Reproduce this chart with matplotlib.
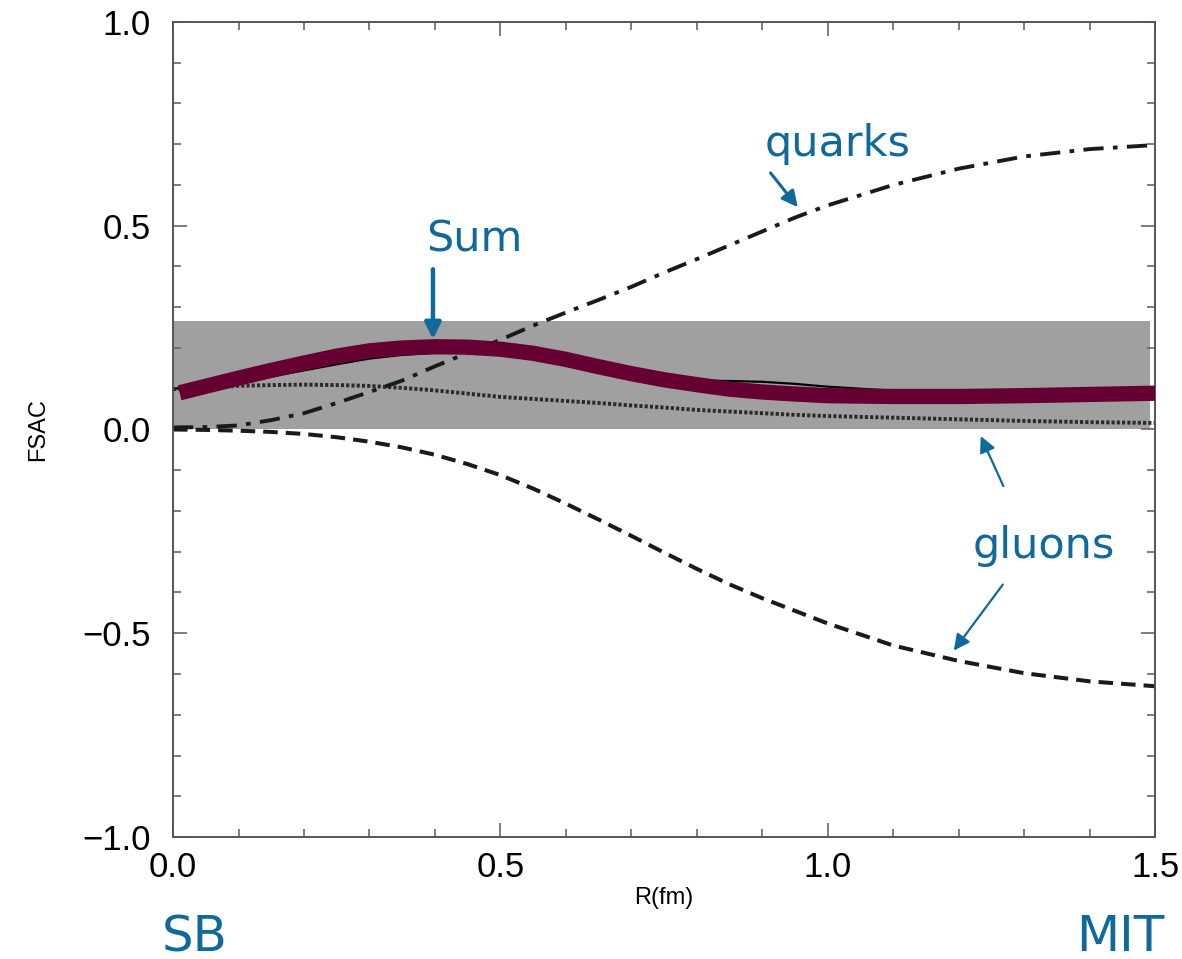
import matplotlib
matplotlib.use("Agg")
import matplotlib.pyplot as plt
from matplotlib.ticker import MultipleLocator

# === DATA ===
R = [0.0, 0.05, 0.1, 0.15, 0.2, 0.25, 0.3, 0.35, 0.4, 0.45, 0.5, 0.55, 0.6,
     0.65, 0.7, 0.75, 0.8, 0.85, 0.9, 0.95, 1.0, 1.1, 1.2, 1.3, 1.4, 1.5]
quarks = [0.005, 0.006, 0.01, 0.023, 0.04, 0.065, 0.092, 0.12, 0.155, 0.188, 0.22, 0.255, 0.287,
          0.318, 0.35, 0.385, 0.418, 0.452, 0.486, 0.52, 0.55, 0.6, 0.64, 0.67, 0.688, 0.698]
gluons_dash = [0.0, -0.001, -0.003, -0.006, -0.011, -0.019, -0.03, -0.044, -0.062, -0.085, -0.112, -0.145, -0.182,
               -0.221, -0.261, -0.302, -0.342, -0.38, -0.414, -0.445, -0.476, -0.53, -0.568, -0.598, -0.618, -0.63]
gluons_dot = [0.099, 0.103, 0.107, 0.109, 0.11, 0.109, 0.107, 0.102, 0.096, 0.088, 0.08, 0.075, 0.07,
              0.065, 0.059, 0.054, 0.048, 0.044, 0.04, 0.036, 0.033, 0.029, 0.025, 0.021, 0.018, 0.016]
sum_thin = [0.10, 0.108, 0.118, 0.13, 0.145, 0.16, 0.174, 0.183, 0.188, 0.19, 0.185, 0.175, 0.162,
            0.148, 0.135, 0.125, 0.12, 0.119, 0.117, 0.112, 0.105, 0.095, 0.09, 0.087, 0.087, 0.088]

R_sum = [0.01, 0.05, 0.1, 0.15, 0.2, 0.25, 0.3, 0.35, 0.4, 0.45, 0.5, 0.55, 0.6,
         0.65, 0.7, 0.75, 0.8, 0.85, 0.9, 0.95, 1.0, 1.1, 1.2, 1.3, 1.4, 1.5]
sum_thick = [0.09, 0.106, 0.126, 0.145, 0.163, 0.18, 0.193, 0.2, 0.203, 0.202, 0.197, 0.187, 0.172,
             0.154, 0.137, 0.122, 0.11, 0.099, 0.092, 0.087, 0.083, 0.081, 0.081, 0.083, 0.086, 0.089]

band_x = [0.0, 1.492]
band_lo = 0.0
band_hi = 0.265

BLUE = "#10699b"
MAROON = "#660033"

plt.rcParams['font.family'] = ['Liberation Sans', 'DejaVu Sans']

fig = plt.figure(figsize=(11.82, 9.59), dpi=100)
ax = fig.add_axes([0.1464, 0.1272, 0.8308, 0.8499])

ax.fill_between(band_x, band_lo, band_hi, color="#a0a0a0", lw=0, zorder=1)

ax.plot(R, sum_thin, color="black", lw=1.6, zorder=2)
ax.plot(R, gluons_dot, color="#2a2a2a", lw=2.8, linestyle=(0, (0.8, 0.55)), zorder=2)
ax.plot(R, quarks, color="#1a1a1a", lw=2.8, dashes=(5.2, 2.4, 1.2, 2.4), zorder=2)
ax.plot(R, gluons_dash, color="#1a1a1a", lw=2.9, dashes=(3.6, 2.0), zorder=2)
ax.plot(R_sum, sum_thick, color=MAROON, lw=11, solid_capstyle="butt", zorder=3)

# axes styling
ax.set_xlim(0, 1.5)
ax.set_ylim(-1.0, 1.0)
ax.xaxis.set_major_locator(MultipleLocator(0.5))
ax.xaxis.set_minor_locator(MultipleLocator(0.1))
ax.yaxis.set_major_locator(MultipleLocator(0.5))
ax.yaxis.set_minor_locator(MultipleLocator(0.1))
ax.xaxis.set_major_formatter(lambda v, p: f"{v:.1f}".replace("-", "\u2212"))
ax.yaxis.set_major_formatter(lambda v, p: f"{v:.1f}".replace("-", "\u2212"))
ax.tick_params(which="both", direction="in", top=True, right=True, color="#666666", width=1.2)
ax.tick_params(which="major", length=10, labelsize=25)
ax.tick_params(which="minor", length=6)
ax.tick_params(axis="y", which="major", pad=16)
ax.tick_params(axis="x", which="major", pad=10)
for s in ax.spines.values():
    s.set_color("#555555")
    s.set_linewidth(1.4)

ax.set_xlabel("R(fm)", fontsize=17, labelpad=2)
ax.set_ylabel("FSAC", fontsize=17, labelpad=24)

# annotations
tfont = dict(color=BLUE, fontsize=31, family="DejaVu Sans")
ax.text(1.015, 0.70, "quarks", ha="center", va="center", **tfont)
ax.text(0.46, 0.465, "Sum", ha="center", va="center", **tfont)
ax.text(1.33, -0.285, "gluons", ha="center", va="center", **tfont)

ax.annotate("", xy=(0.957, 0.54), xytext=(0.91, 0.635),
            arrowprops=dict(arrowstyle="-|>", color=BLUE, lw=2.2, mutation_scale=24))
ax.annotate("", xy=(0.397, 0.215), xytext=(0.397, 0.40),
            arrowprops=dict(arrowstyle="-|>", color=BLUE, lw=3.2, mutation_scale=24))
ax.annotate("", xy=(1.232, -0.01), xytext=(1.27, -0.145),
            arrowprops=dict(arrowstyle="-|>", color=BLUE, lw=1.6, mutation_scale=24))
ax.annotate("", xy=(1.19, -0.548), xytext=(1.27, -0.375),
            arrowprops=dict(arrowstyle="-|>", color=BLUE, lw=1.6, mutation_scale=24))

fig.text(195 / 1182, 1 - 937 / 959, "SB", color=BLUE, fontsize=36,
         family="DejaVu Sans", ha="center", va="center")
fig.text(1120 / 1182, 1 - 937 / 959, "MIT", color=BLUE, fontsize=36,
         family="DejaVu Sans", ha="center", va="center")

fig.savefig("out.png", dpi=100)
